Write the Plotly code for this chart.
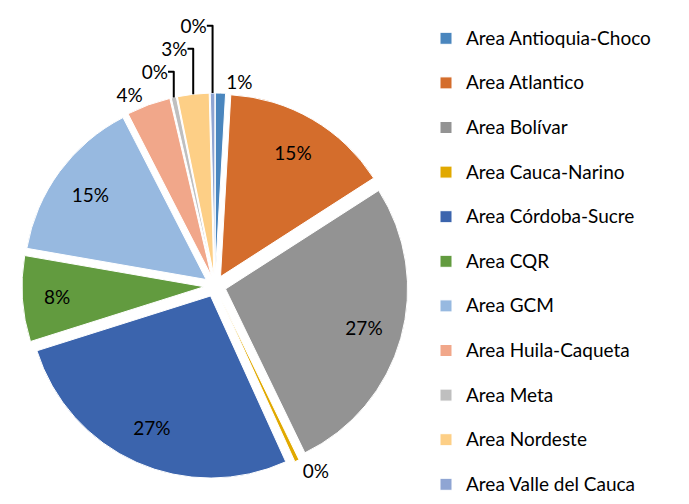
import plotly.graph_objects as go

areas = ["Area Antioquia-Choco", "Area Atlantico", "Area Bolívar", "Area Cauca-Narino",
         "Area Córdoba-Sucre", "Area CQR", "Area GCM", "Area Huila-Caqueta",
         "Area Meta", "Area Nordeste", "Area Valle del Cauca"]
shares = [0.9, 15.0, 26.9, 0.4, 26.9, 7.6, 14.7, 3.9, 0.45, 2.8, 0.4]
colors = ["#4A86BE", "#D46D2C", "#939393", "#E1A900", "#3B64AD", "#629B3F",
          "#97B9E0", "#F1A78A", "#BFBFBF", "#FDCF86", "#8FA5D3"]
label_outside = [True, False, False, True, False, False, False, True, True, True, True]

legend_labels = ['<span style="font-size:19px;baseline-shift:6px">%s</span>' % a for a in areas]
pct = "%{percent:.0%}"
domain = dict(x=[14 / 689, 400 / 689], y=[33 / 504, 419 / 504])
pulls = [0.06] * len(shares)

# main pie: slices + outside labels for the small slices
fig = go.Figure(go.Pie(
    labels=legend_labels,
    values=shares,
    sort=False,
    direction="clockwise",
    rotation=0,
    pull=pulls,
    marker=dict(colors=colors, line=dict(color="white", width=1)),
    texttemplate=[pct if o else "" for o in label_outside],
    textposition=["outside" if o else "none" for o in label_outside],
    outsidetextfont=dict(size=19, color="black", family="Lato"),
    domain=domain,
    automargin=False,
))

# transparent ring that carries the inside labels further out, as in the reference
fig.add_trace(go.Pie(
    labels=legend_labels,
    values=shares,
    sort=False,
    direction="clockwise",
    rotation=0,
    pull=pulls,
    hole=0.58,
    marker=dict(colors=["rgba(0,0,0,0)"] * len(shares), line=dict(width=0)),
    texttemplate=["" if o else pct for o in label_outside],
    textposition=["none" if o else "inside" for o in label_outside],
    insidetextorientation="horizontal",
    textfont=dict(size=19, color="black", family="Lato"),
    domain=domain,
    automargin=False,
    showlegend=False,
    hoverinfo="skip",
))

fig.update_layout(
    width=689, height=504,
    margin=dict(l=0, r=0, t=0, b=0),
    paper_bgcolor="white",
    font=dict(family="Lato", color="black"),
    showlegend=True,
    legend=dict(x=418 / 689, xanchor="left", y=1 - 21 / 504, yanchor="top",
                font=dict(size=32, family="Lato", color="black"),
                bgcolor="rgba(0,0,0,0)", tracegroupgap=0),
)

fig.write_html("out.html")
